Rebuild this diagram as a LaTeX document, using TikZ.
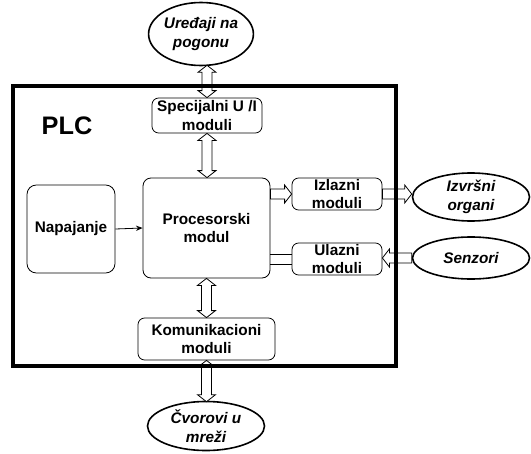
\documentclass[tikz,border=0pt]{standalone}
\usepackage{fontspec}
\setmainfont{Liberation Sans}
\usetikzlibrary{calc,shapes.geometric,arrows.meta}

% dimensions of the hollow (block) arrows
\newcommand{\shaftw}{3.75pt}
\newcommand{\headw}{6.75pt}
\newcommand{\headl}{5.25pt}

% vertical block arrow with heads at both ends; #1 is the upper end
\newcommand{\vboth}[2]{%
  \draw[hollow] let \p1=(#1), \p2=(#2) in
    (\x1,\y1) -- (\x1+\headw,\y1-\headl) -- (\x1+\shaftw,\y1-\headl)
    -- (\x1+\shaftw,\y2+\headl) -- (\x1+\headw,\y2+\headl) -- (\x1,\y2)
    -- (\x1-\headw,\y2+\headl) -- (\x1-\shaftw,\y2+\headl)
    -- (\x1-\shaftw,\y1-\headl) -- (\x1-\headw,\y1-\headl) -- cycle;}

% horizontal block arrow pointing right, tail #1, head #2
\newcommand{\hright}[2]{%
  \draw[hollow] let \p1=(#1), \p2=(#2) in
    (\x1,\y1+\shaftw) -- (\x2-\headl,\y1+\shaftw) -- (\x2-\headl,\y1+\headw)
    -- (\x2,\y1) -- (\x2-\headl,\y1-\headw) -- (\x2-\headl,\y1-\shaftw)
    -- (\x1,\y1-\shaftw) -- cycle;}

% horizontal block arrow pointing left, tail #1, head #2
\newcommand{\hleft}[2]{%
  \draw[hollow] let \p1=(#1), \p2=(#2) in
    (\x1,\y1+\shaftw) -- (\x2+\headl,\y1+\shaftw) -- (\x2+\headl,\y1+\headw)
    -- (\x2,\y1) -- (\x2+\headl,\y1-\headw) -- (\x2+\headl,\y1-\shaftw)
    -- (\x1,\y1-\shaftw) -- cycle;}

\begin{document}
\begin{tikzpicture}[x=0.75pt,y=-0.75pt,
  box/.style={draw, line width=0.6pt, rounded corners=5pt, align=center,
    font=\fontsize{11.5}{14.2}\selectfont\bfseries, inner sep=0pt},
  ext/.style={draw, ellipse, line width=1.2pt, align=center,
    font=\fontsize{11.5}{14.2}\selectfont\bfseries\itshape, inner sep=0pt},
  hollow/.style={draw, line width=0.6pt, fill=white},
  frame/.style={line width=2.6pt}]
\useasboundingbox (0,0) rectangle (531,453);

% modules inside the PLC
\node[box, minimum width=82.5pt, minimum height=26.25pt] (spec) at (207,115.5) {Specijalni U /I\\moduli};
\node[box, minimum width=95.25pt, minimum height=75pt, rounded corners=6pt] (proc) at (206.5,228) {Procesorski\\modul};
\node[box, minimum width=66pt, minimum height=66pt, rounded corners=7pt] (nap) at (71,229) {Napajanje};
\node[box, minimum width=67.5pt, minimum height=24pt] (izl) at (337,194) {Izlazni\\moduli};
\node[box, minimum width=67.5pt, minimum height=24pt] (ula) at (337,259) {Ulazni\\moduli};
\node[box, minimum width=102.75pt, minimum height=31.5pt] (kom) at (206.5,339) {Komunikacioni\\moduli};

% external devices
\node[ext, minimum width=69.75pt, minimum height=47.25pt] (ured) at (201,34) {Uređaji na\\pogonu};
\node[ext, minimum width=87.75pt, minimum height=36pt] (izv) at (471,197) {Izvršni\\organi};
\node[ext, minimum width=87.75pt, minimum height=31.5pt] (sen) at (471,258) {Senzori};
\node[ext, minimum width=87.75pt, minimum height=36.75pt] (cvo) at (206,426) {Čvorovi u\\mreži};

% PLC label
\node[font=\fontsize{19}{22}\selectfont\bfseries] (plc) at (67,126) {PLC};

% power supply feed
\draw[line width=0.6pt, -{Stealth[length=5pt,width=4pt]}] (nap.east) -- (proc.west);

% data paths
\vboth{$(spec.north |- ured.south)+(0,-1)$}{spec.north}
\vboth{spec.south}{proc.north}
\vboth{proc.south}{kom.north}
\vboth{kom.south}{$(kom.south |- cvo.north)+(0,1)$}
\hright{proc.east |- izl.west}{izl.west}
\hright{izl.east}{izv.west}
\hleft{sen.west}{ula.east}
\draw[line width=0.6pt] let \p1=(ula.west), \p2=(proc.east) in
  (\x1,\y1+\shaftw) -- (\x2,\y1+\shaftw)
  (\x1,\y1-\shaftw) -- (\x2,\y1-\shaftw);

% PLC enclosure
\draw[frame] (13,86) rectangle (396,366);
\end{tikzpicture}
\end{document}
